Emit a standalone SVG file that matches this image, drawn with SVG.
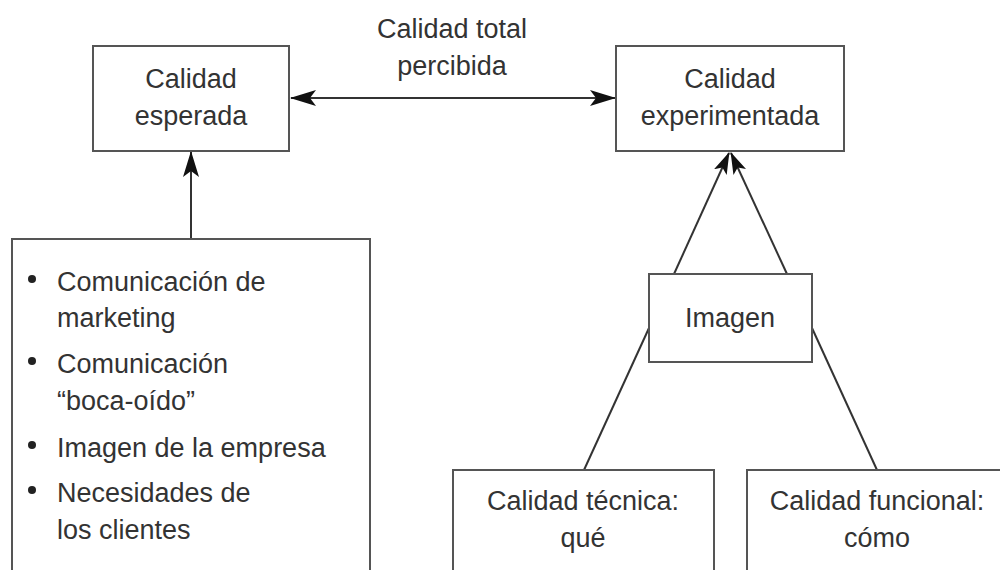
<svg xmlns="http://www.w3.org/2000/svg" width="1000" height="570" viewBox="0 0 1000 570">
<style>
.box{fill:#fff;stroke:#555;stroke-width:2}
.t{font-family:"Liberation Sans",Arial,sans-serif;font-size:27px;fill:#333}
.c{text-anchor:middle}
.ln{stroke:#333;stroke-width:2;fill:none}
.bul{fill:#222}
</style>
<defs>
<marker id="ah" markerUnits="userSpaceOnUse" markerWidth="26" markerHeight="16" refX="25" refY="8" orient="auto-start-reverse">
<path d="M0,0 L26,8 L0,16 L6,8 Z" fill="#111"/>
</marker>
<marker id="ah2" markerUnits="userSpaceOnUse" markerWidth="22" markerHeight="14" refX="21" refY="7" orient="auto">
<path d="M0,0 L22,7 L0,14 L5,7 Z" fill="#111"/>
</marker>
</defs>
<rect width="1000" height="570" fill="#fff"/>
<g id="connectors">
<line class="ln" x1="291" y1="98" x2="615" y2="98" marker-start="url(#ah)" marker-end="url(#ah)"/>
<line class="ln" x1="191" y1="239" x2="191" y2="152" marker-end="url(#ah)"/>
<line class="ln" x1="674" y1="274" x2="729" y2="153" marker-end="url(#ah2)"/>
<line class="ln" x1="787" y1="274" x2="731" y2="153" marker-end="url(#ah2)"/>
<line class="ln" x1="649" y1="328" x2="584" y2="470"/>
<line class="ln" x1="812" y1="328" x2="877" y2="470"/>
</g>
<g id="label-total">
<text class="t c" x="452" y="38">Calidad total</text>
<text class="t c" x="452" y="75">percibida</text>
</g>
<g id="esperada">
<rect class="box" x="93" y="46" width="196" height="105"/>
<text class="t c" x="191" y="88">Calidad</text>
<text class="t c" x="191" y="125">esperada</text>
</g>
<g id="experimentada">
<rect class="box" x="616" y="46" width="228" height="105"/>
<text class="t c" x="730" y="88">Calidad</text>
<text class="t c" x="730" y="125">experimentada</text>
</g>
<g id="factores">
<rect class="box" x="12" y="239" width="358" height="345"/>
<circle class="bul" cx="32" cy="279" r="4"/>
<text class="t" x="57" y="291">Comunicación de</text>
<text class="t" x="57" y="327">marketing</text>
<circle class="bul" cx="32" cy="361" r="4"/>
<text class="t" x="57" y="373">Comunicación</text>
<text class="t" x="57" y="410">“boca-oído”</text>
<circle class="bul" cx="32" cy="445" r="4"/>
<text class="t" x="57" y="457">Imagen de la empresa</text>
<circle class="bul" cx="32" cy="490" r="4"/>
<text class="t" x="57" y="502">Necesidades de</text>
<text class="t" x="57" y="539">los clientes</text>
</g>
<g id="imagen">
<rect class="box" x="649" y="274" width="163" height="88"/>
<text class="t c" x="730" y="327">Imagen</text>
</g>
<g id="tecnica">
<rect class="box" x="453" y="470" width="261" height="120"/>
<text class="t c" x="583" y="510">Calidad técnica:</text>
<text class="t c" x="583" y="547">qué</text>
</g>
<g id="funcional">
<rect class="box" x="747" y="470" width="270" height="120"/>
<text class="t c" x="877" y="510">Calidad funcional:</text>
<text class="t c" x="877" y="547">cómo</text>
</g>
</svg>
